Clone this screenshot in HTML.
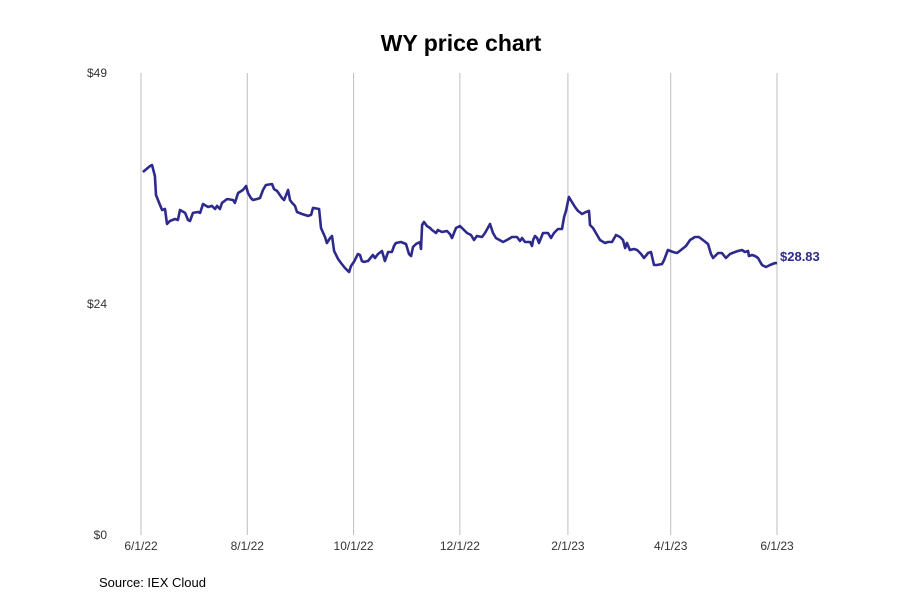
<!DOCTYPE html>
<html><head><meta charset="utf-8"><style>
body{margin:0;background:#fff;font-family:"Liberation Sans",sans-serif;}
svg text{font-family:"Liberation Sans",sans-serif;}
</style></head><body>
<svg id="chart" width="900" height="600" viewBox="0 0 900 600" xmlns="http://www.w3.org/2000/svg">
<text x="461" y="51" text-anchor="middle" font-size="23" font-weight="bold" fill="#000">WY price chart</text>
<g id="grid"></g><g id="yaxis"></g><g id="xaxis"></g><g id="series"></g>
<text x="99" y="587" font-size="13" fill="#000">Source: IEX Cloud</text>
</svg>
<script>
const xTickLabels=["6/1/22","8/1/22","10/1/22","12/1/22","2/1/23","4/1/23","6/1/23"];
const xTickDays=[0,61,122,183,245,304,365];
const yTicks=[0,24.5,49];
const yTickLabels=["$0","$24","$49"];
const days=[1.1,5.2,6.3,8.0,8.6,10.9,12.1,13.8,14.9,16.6,19.5,21.2,22.4,25.3,27.0,28.1,29.8,32.7,33.9,35.6,38.5,40.7,42.5,43.6,45.3,46.5,49.4,52.8,53.9,55.7,58.5,60.3,61.4,63.1,64.3,66.6,68.3,70.0,71.7,75.2,76.3,78.1,80.9,82.1,84.4,85.5,86.7,88.4,89.5,92.4,95.8,97.6,98.7,102.2,103.3,105.6,106.7,108.5,109.6,110.8,113.1,114.8,117.1,118.2,119.4,120.5,122.2,124.5,125.7,126.8,128.0,130.3,133.1,134.3,136.0,138.3,140.0,141.8,144.0,145.2,146.3,149.2,152.1,153.8,155.0,156.1,157.8,160.1,160.7,161.3,162.4,164.1,165.9,167.0,169.3,170.4,172.7,175.6,177.3,178.5,180.8,183.1,187.1,189.4,191.1,192.8,195.7,197.4,200.3,202.0,203.7,207.8,210.0,212.9,215.8,217.5,218.7,220.4,223.3,224.4,225.0,226.1,227.3,228.4,230.7,233.6,235.3,237.0,239.3,241.6,242.8,243.9,245.6,249.1,250.8,253.1,255.4,257.1,257.7,259.4,263.4,266.3,268.0,270.3,272.6,274.9,276.6,277.8,278.9,280.6,282.9,284.7,287.0,288.7,291.0,292.7,294.4,296.1,299.0,300.2,302.4,305.3,307.6,309.9,312.8,313.9,315.1,317.9,320.2,322.5,325.4,327.1,328.3,331.2,333.4,335.7,338.0,340.9,342.6,344.9,346.6,348.4,348.9,350.7,352.4,354.1,356.4,358.7,361.0,363.9,365];
const prices=[38.50,39.14,39.24,38.08,36.06,35.00,34.47,34.58,32.98,33.30,33.51,33.41,34.47,34.16,33.41,33.30,34.16,34.26,34.16,35.11,34.79,34.90,34.58,34.90,34.58,35.22,35.64,35.53,35.22,36.27,36.59,37.02,36.27,35.74,35.53,35.64,35.74,36.59,37.12,37.23,36.70,36.48,35.74,35.53,36.59,35.53,35.22,34.90,34.26,34.05,33.84,33.95,34.69,34.58,32.56,31.61,30.97,31.50,31.71,30.12,29.27,28.85,28.32,28.11,27.89,28.53,28.96,29.80,29.70,29.06,28.96,29.06,29.70,29.38,29.80,30.12,29.06,30.02,30.02,30.65,30.97,31.08,30.86,29.80,29.59,30.55,30.86,31.08,30.33,32.88,33.20,32.77,32.56,32.35,32.03,32.35,32.14,32.24,31.92,31.50,32.56,32.77,32.03,31.82,31.29,31.71,31.61,32.03,32.98,32.03,31.50,31.08,31.29,31.61,31.61,31.18,31.50,31.08,31.08,30.65,31.29,31.71,31.50,30.97,32.03,32.03,31.50,32.03,32.45,32.45,33.73,34.37,35.85,34.79,34.37,34.05,34.26,34.37,32.88,32.56,31.29,30.97,31.08,31.08,31.82,31.61,31.29,30.44,30.97,30.23,30.33,30.23,29.80,29.38,29.91,30.02,28.64,28.64,28.74,29.17,30.23,30.02,29.91,30.23,30.65,30.97,31.29,31.61,31.61,31.29,30.86,29.80,29.38,29.91,29.91,29.38,29.80,30.02,30.12,30.23,30.02,30.12,29.59,29.70,29.59,29.38,28.64,28.42,28.64,28.85,28.83];
const lastLabel="$28.83";

const NS="http://www.w3.org/2000/svg";
const x0=141,x1=777,y0=535,y1=73;
function xs(d){return x0+(d/365)*(x1-x0);}
function ys(v){return y0-(v/49)*(y0-y1);}
function mk(tag,attrs,parent){const e=document.createElementNS(NS,tag);for(const k in attrs)e.setAttribute(k,attrs[k]);parent.appendChild(e);return e;}
const grid=document.getElementById('grid'),xa=document.getElementById('xaxis'),ya=document.getElementById('yaxis'),se=document.getElementById('series');
xTickDays.forEach((d,i)=>{
  const l=mk('line',{x1:xs(d),x2:xs(d),y1:y1,y2:y0,stroke:'#bdbdbd','stroke-width':1},grid);
  
  
  const t=mk('text',{x:xs(d),y:y0+15,'text-anchor':'middle','font-size':12,fill:'#333'},xa);
  
  
  t.textContent=xTickLabels[i];
});
yTicks.forEach((v,i)=>{
  const t=mk('text',{x:107,y:ys(v)+4,'text-anchor':'end','font-size':12,fill:'#333'},ya);
  
  
  t.textContent=yTickLabels[i];
});
const pts=days.map((d,i)=>xs(d).toFixed(1)+','+ys(prices[i]).toFixed(1)).join(' ');
const pl=mk('polyline',{points:pts,fill:'none',stroke:'#2e2a8c','stroke-width':2.6,'stroke-linejoin':'round'},se);


const n=days.length-1;
const lb=mk('text',{x:xs(days[n])+3,y:ys(prices[n])-2,'font-size':13,'font-weight':'bold',fill:'#2e2a8c'},se);


lb.textContent=lastLabel;
</script>
</body></html>
